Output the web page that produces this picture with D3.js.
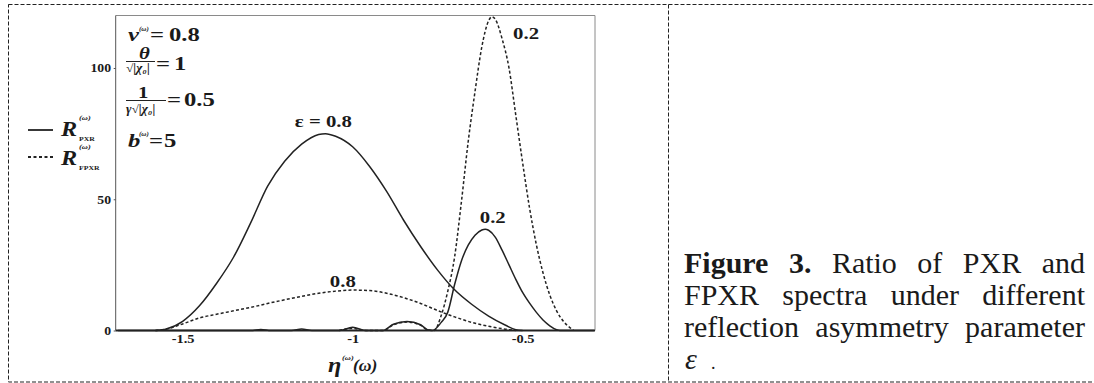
<!DOCTYPE html>
<html>
<head>
<meta charset="utf-8">
<style>
  body { margin: 0; background: #fff; }
  svg { display: block; }
  text { font-family: "Liberation Serif", "Times New Roman", serif; fill: #1a1a1a; }
</style>
<script src="https://cdn.jsdelivr.net/npm/d3@7"></script>
</head>
<body>
<script>
// tick values
const xTicks = [-1.5, -1, -0.5];
const yTicks = [0, 50, 100];

// R_PXR, eps = 0.8 (solid)
const pxrEps08 = [
  [-1.58, 0], [-1.55, 0.5], [-1.50, 3.5], [-1.45, 9.5], [-1.40, 18], [-1.35, 28],
  [-1.30, 41], [-1.25, 55], [-1.20, 64.5], [-1.15, 71], [-1.10, 74.7], [-1.08, 75],
  [-1.05, 74], [-1.00, 70], [-0.95, 62.5], [-0.90, 53], [-0.85, 42], [-0.80, 32],
  [-0.75, 23], [-0.70, 15.5], [-0.65, 10], [-0.60, 5.5], [-0.55, 2], [-0.52, 0.3], [-0.50, 0]
];
// R_FPXR, eps = 0.8 (dashed)
const fpxrEps08 = [
  [-1.58, 0], [-1.55, 0.5], [-1.50, 2.5], [-1.45, 4.8], [-1.40, 6.2], [-1.35, 7.5],
  [-1.30, 8.8], [-1.25, 10.3], [-1.20, 11.7], [-1.15, 13], [-1.10, 14.2], [-1.05, 15],
  [-1.00, 15.4], [-0.95, 15.2], [-0.90, 14.2], [-0.85, 12.5], [-0.80, 10.3], [-0.75, 7.6],
  [-0.70, 5.2], [-0.65, 3.1], [-0.60, 1.6], [-0.55, 0.5], [-0.52, 0]
];
// R_PXR, eps = 0.2 (solid)
const pxrEps02 = [
  [-1.69, 0], [-1.30, 0], [-1.27, 0.4], [-1.24, 0], [-1.18, 0], [-1.15, 0.6], [-1.12, 0],
  [-1.04, 0], [-1.00, 1.2], [-0.96, 0], [-0.91, 0], [-0.88, 2.4], [-0.84, 3.4], [-0.80, 2.2],
  [-0.78, 0.3], [-0.765, 0], [-0.74, 3], [-0.72, 7], [-0.70, 17.5], [-0.68, 26.5],
  [-0.66, 32.5], [-0.64, 36.3], [-0.62, 38.3], [-0.61, 38.6], [-0.60, 38.2], [-0.58, 35.5],
  [-0.56, 30.5], [-0.54, 25], [-0.52, 19.5], [-0.50, 14.5], [-0.48, 10.5], [-0.46, 7],
  [-0.44, 4], [-0.42, 1.8], [-0.40, 0.3], [-0.39, 0], [-0.29, 0]
];
// R_FPXR, eps = 0.2 (dashed)
const fpxrEps02 = [
  [-1.04, 0], [-1.00, 0.8], [-0.96, 0], [-0.91, 0], [-0.88, 2.2], [-0.84, 3.2], [-0.80, 2],
  [-0.78, 0.3], [-0.76, 0], [-0.74, 5.5], [-0.72, 15], [-0.70, 28], [-0.68, 49],
  [-0.66, 72], [-0.64, 91], [-0.62, 108], [-0.60, 118], [-0.59, 119.5], [-0.58, 118.5],
  [-0.56, 111], [-0.54, 100], [-0.52, 82], [-0.50, 64], [-0.48, 47], [-0.46, 33],
  [-0.44, 22], [-0.42, 13.5], [-0.40, 7.5], [-0.38, 3.5], [-0.36, 1], [-0.35, 0]
];

// curve labels: [text, eta, value]
const curveLabels = [
  ["ε = 0.8", -1.17, 77.7],
  ["0.2", -0.528, 110.9],
  ["0.2", -0.626, 41],
  ["0.8", -1.067, 16.6]
];

const captionLines = [
  [["Figure", true], ["3.", true], ["Ratio"], ["of"], ["PXR"], ["and"]],
  [["FPXR"], ["spectra"], ["under"], ["different"]],
  [["reflection"], ["asymmetry"], ["parameter"]]
];

const W = 1094, H = 383;
const sx = 1.3; // the plot image is stretched horizontally

const svg = d3.select("body").append("svg")
  .attr("width", W)
  .attr("height", H);

// dashed table borders
svg.append("rect")
  .attr("x", 8.5).attr("y", 4.5)
  .attr("width", 1100).attr("height", 377.5)
  .attr("fill", "none").attr("stroke", "#222")
  .attr("stroke-dasharray", "4,2");
svg.append("line")
  .attr("x1", 668.5).attr("x2", 668.5).attr("y1", 4.5).attr("y2", 382)
  .attr("stroke", "#222").attr("stroke-dasharray", "4,2");

const x = d3.scaleLinear().domain([-1.697, -0.287]).range([115.7, 595]);
const y = d3.scaleLinear().domain([0, 120]).range([330.5, 15.5]);

// plot frame
svg.append("line").attr("x1", x.range()[0]).attr("x2", x.range()[1])
  .attr("y1", y(120)).attr("y2", y(120)).attr("stroke", "#8a8a8a");
svg.append("line").attr("x1", x.range()[1]).attr("x2", x.range()[1])
  .attr("y1", y(120)).attr("y2", y(0)).attr("stroke", "#8a8a8a");
svg.append("line").attr("x1", x.range()[0]).attr("x2", x.range()[0])
  .attr("y1", y(120)).attr("y2", y(0)).attr("stroke", "#555");

// axes
const xAxis = svg.append("g")
  .attr("transform", "translate(0," + y(0) + ")")
  .call(d3.axisBottom(x).tickValues(xTicks).tickSize(0).tickPadding(4).tickFormat(d => String(d)));
const yAxis = svg.append("g")
  .attr("transform", "translate(" + x.range()[0] + ",0)")
  .call(d3.axisLeft(y).tickValues(yTicks).tickSize(2).tickPadding(2).tickFormat(d => String(d)));

[xAxis, yAxis].forEach(a => {
  a.select(".domain").remove();
  a.selectAll("line").attr("stroke", "#555");
  a.selectAll("text")
    .attr("font-weight", "bold")
    .attr("font-size", 12)
    .attr("fill", "#3a3a3a");
});
xAxis.selectAll("text").attr("transform", "scale(1.2,1)");
yAxis.selectAll("text").attr("transform", "scale(1.15,1)");

// curves
const line = d3.line()
  .x(d => x(d[0]))
  .y(d => y(d[1]))
  .curve(d3.curveMonotoneX);

const series = [
  [pxrEps02, null],
  [pxrEps08, null],
  [fpxrEps08, "3,2.2"],
  [fpxrEps02, "3,2.2"]
];
series.forEach(([data, dash]) => {
  svg.append("path")
    .datum(data)
    .attr("d", line)
    .attr("fill", "none")
    .attr("stroke", "#222")
    .attr("stroke-width", 1.5)
    .attr("stroke-dasharray", dash);
});

// thick bottom axis line
svg.append("line").attr("x1", x.range()[0]).attr("x2", x.range()[1])
  .attr("y1", y(0)).attr("y2", y(0)).attr("stroke", "#222").attr("stroke-width", 2);

// helper for stretched text
function txt(px, py, str, size, opts = {}) {
  return svg.append("text")
    .attr("transform", "translate(" + px + "," + py + ") scale(" + (opts.sx || sx) + ",1)")
    .attr("font-size", size)
    .attr("font-weight", opts.normal ? "normal" : "bold")
    .attr("font-style", opts.italic ? "italic" : "normal")
    .attr("text-anchor", opts.anchor || "start")
    .text(str);
}

curveLabels.forEach(([t, ex, ev]) => {
  txt(x(ex), y(ev), t, 16);
});

// parameter block
txt(128, 41, "ν", 19, { italic: true });
txt(139, 31, "(ω)", 5.5, { italic: true });
txt(150, 41, "=", 19);
txt(169, 41, "0.8", 19);

txt(139, 59, "θ", 16, { italic: true });
svg.append("line").attr("x1", 126).attr("x2", 155).attr("y1", 61.5).attr("y2", 61.5)
  .attr("stroke", "#222").attr("stroke-width", 1);
txt(126, 72, "√|χ₀|", 11.5, { italic: true, sx: 1.15 });
txt(156, 70, "=", 19);
txt(174, 70, "1", 19);

txt(138, 98, "1", 16);
svg.append("line").attr("x1", 126).attr("x2", 166).attr("y1", 100.5).attr("y2", 100.5)
  .attr("stroke", "#222").attr("stroke-width", 1);
txt(126, 113, "γ√|χ₀|", 11.5, { italic: true, sx: 1.15 });
txt(167, 106, "=", 19);
txt(184, 106, "0.5", 19);

txt(128, 147, "b", 19, { italic: true });
txt(139, 136, "(ω)", 5.5, { italic: true });
txt(149, 147, "=", 19);
txt(164, 147, "5", 19);

// legend
svg.append("line").attr("x1", 28).attr("x2", 53).attr("y1", 130).attr("y2", 130)
  .attr("stroke", "#222").attr("stroke-width", 1.8);
txt(61, 136, "R", 22, { italic: true, sx: 1.1 });
txt(79, 120, "(ω)", 6.5, { italic: true });
txt(79, 141, "PXR", 5.5, { sx: 1.4 });

svg.append("line").attr("x1", 28).attr("x2", 53).attr("y1", 157).attr("y2", 157)
  .attr("stroke", "#222").attr("stroke-width", 1.8).attr("stroke-dasharray", "3,2.5");
txt(61, 165, "R", 22, { italic: true, sx: 1.1 });
txt(79, 149, "(ω)", 6.5, { italic: true });
txt(79, 170, "FPXR", 5.5, { sx: 1.4 });

// x axis title
txt(328, 372, "η", 22, { italic: true, sx: 1.1 });
txt(342, 360, "(ω)", 6.5, { italic: true });
txt(353, 371, "(ω)", 16, { italic: true, sx: 1.1 });

// caption, justified between left and right edges
const capL = 684, capR = 1085, capSize = 30, capLead = 32, capTop = 273;
captionLines.forEach((words, i) => {
  const yy = capTop + i * capLead;
  const nodes = words.map(([w, b]) => svg.append("text")
    .attr("y", yy)
    .attr("font-size", capSize)
    .attr("font-weight", b ? "bold" : "normal")
    .attr("fill", "#111")
    .text(w));
  const widths = nodes.map(n => n.node().getComputedTextLength());
  const total = d3.sum(widths);
  const gap = (capR - capL - total) / (words.length - 1);
  let cx = capL;
  nodes.forEach((n, k) => { n.attr("x", cx); cx += widths[k] + gap; });
});
svg.append("text")
  .attr("x", capL + 1).attr("y", capTop + 3 * capLead)
  .attr("font-size", capSize).attr("font-style", "italic").attr("fill", "#111")
  .text("ε");
svg.append("text")
  .attr("x", capL + 27).attr("y", capTop + 3 * capLead)
  .attr("font-size", capSize * 0.6).attr("fill", "#111")
  .text(".");
</script>
</body>
</html>
